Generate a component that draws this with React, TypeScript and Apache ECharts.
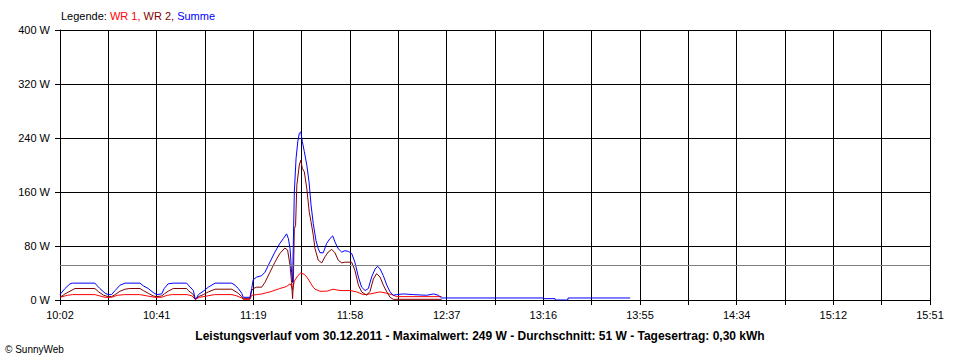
import React, { useEffect, useRef } from "react";
import * as echarts from "echarts";

// minutes after 10:02, watts
const xTickLabels = ["10:02", "10:41", "11:19", "11:58", "12:37", "13:16", "13:55", "14:34", "15:12", "15:51"];
const spanMinutes = 349;
const gridSteps = 18;
const averageWatt = 51;

const wr1: [number, number][] = [
  [0, 4], [3, 7], [5, 8], [14, 8], [16, 6], [18.1, 4], [20.7, 4], [23, 7], [26, 8], [32, 8], [35, 6], [38, 4],
  [40.8, 4], [43, 7], [45, 8], [51, 8], [53, 6], [54.2, 1], [54.8, 2], [56, 4], [59, 6], [62, 8], [69, 8], [71, 6],
  [72.9, 3], [73.5, 1], [76.2, 1], [76.9, 7], [78.9, 8], [80.9, 9], [84.2, 12], [88.2, 17], [90.9, 20], [92.3, 24],
  [92.9, 20], [93.3, 15], [94.0, 28], [95.4, 36], [96.6, 40], [98.0, 38], [99.0, 34], [99.9, 29], [100.7, 24],
  [101.6, 19], [102.3, 16], [104.3, 13], [107.0, 13], [109.6, 16], [112.3, 14], [116.3, 14], [119.0, 12],
  [121.7, 8], [124.4, 9], [128.4, 12], [131.1, 10], [133.1, 8], [135.1, 5], [153.1, 5],
];

const wr2: [number, number][] = [
  [0, 4], [2, 9], [4, 13], [6, 17], [14, 17], [15.5, 12], [17.5, 7], [19.4, 5], [20.7, 5], [22.1, 8], [24.1, 13],
  [26.1, 16], [28, 17], [32.1, 17], [33.4, 14], [35.4, 10], [37.4, 6], [38.8, 5], [40.8, 6], [41.8, 9], [43.4, 13],
  [45.4, 17], [50.8, 17], [51.5, 14], [53.5, 8], [54.2, 1], [54.8, 2], [55.5, 5], [57.5, 8], [59.5, 12], [62.2, 16],
  [68.9, 16], [70.2, 13], [71.5, 10], [72.9, 5], [73.5, 2], [76.2, 2], [76.9, 14], [77.5, 17], [78.9, 19],
  [80.9, 19], [82.2, 26], [84.2, 41], [86.2, 56], [88.2, 69], [90.2, 77], [91.3, 74], [92.3, 51], [92.9, 26],
  [93.3, 2], [93.6, 26], [94.0, 106], [94.5, 110], [95.0, 170], [96.0, 200], [96.6, 207], [97.2, 195], [98.0, 190],
  [99.0, 165], [100.0, 130], [100.7, 116], [101.6, 96], [102.3, 76], [103.6, 59], [105.0, 55], [106.3, 64],
  [107.6, 71], [109.0, 75], [110.3, 70], [111.6, 59], [113.0, 55], [114.3, 56], [117.0, 56], [118.3, 44],
  [119.7, 22], [121.0, 12], [123.0, 7], [124.4, 13], [125.7, 31], [127.0, 39], [128.4, 34], [129.7, 22],
  [131.1, 12], [132.4, 4], [133.7, 1], [153.1, 1],
];

const summe: [number, number][] = [
  [0, 8], [2, 17], [4, 24], [5, 25], [14, 25], [14.7, 22], [16, 17], [18.1, 10], [19.4, 8], [20.7, 8], [22.1, 14],
  [24.1, 22], [26.1, 25], [32.1, 25], [33.4, 21], [35.4, 17], [37.4, 11], [38.8, 8], [40.8, 9], [41.8, 17],
  [43.4, 24], [45.4, 25], [50.8, 25], [51.5, 22], [53.5, 14], [54.2, 2], [54.8, 3], [55.5, 8], [57.5, 13],
  [59.5, 19], [62.2, 25], [68.9, 25], [70.2, 22], [71.5, 17], [72.9, 10], [73.5, 4], [76.2, 4], [76.9, 17],
  [77.5, 30], [78.9, 34], [80.9, 36], [82.2, 41], [84.2, 56], [86.2, 71], [88.2, 84], [89.6, 91], [90.9, 98],
  [91.6, 91], [92.3, 76], [92.9, 41], [93.3, 26], [94.0, 160], [94.7, 210], [95.4, 235], [96.0, 247], [96.6, 249],
  [97.2, 235], [98.0, 220], [99.0, 200], [99.9, 175], [100.7, 141], [101.6, 113], [102.7, 88], [103.6, 76],
  [104.3, 70], [105.6, 70], [107.0, 84], [108.3, 91], [109.4, 95], [110.3, 86], [111.6, 76], [113.0, 71],
  [114.3, 73], [115.7, 72], [117.0, 69], [118.3, 56], [119.7, 34], [121.0, 19], [122.4, 14], [123.7, 17],
  [125.0, 34], [126.4, 46], [127.4, 50], [128.4, 46], [129.7, 36], [131.1, 22], [132.4, 12], [133.7, 7],
  [135.1, 8], [137.7, 9], [141.7, 8], [147.1, 7], [149.8, 9], [151.8, 7], [153.1, 3], [193.9, 3], [194.2, 2],
  [198.6, 2], [198.7, 0], [203.7, 0], [203.8, 3], [228.7, 3],
];

const FONT = "'Liberation Sans', Arial, sans-serif";

export default function App() {
  const ref = useRef<HTMLDivElement>(null);
  useEffect(() => {
    if (!ref.current) return;
    const chart = echarts.init(ref.current, undefined, { renderer: "svg" });
    const step = spanMinutes / gridSteps;
    chart.setOption({
      animation: false,
      backgroundColor: "#ffffff",
      textStyle: { fontFamily: FONT },
      grid: { left: 60, right: 30, top: 30, bottom: 60 },
      xAxis: {
        type: "value",
        min: 0,
        max: spanMinutes,
        interval: step,
        axisLine: { show: true, lineStyle: { color: "#000", width: 1 } },
        axisTick: { show: true, length: 5, lineStyle: { color: "#000" } },
        splitLine: { show: true, lineStyle: { color: "#000", width: 1 } },
        axisLabel: {
          color: "#000",
          fontSize: 11,
          fontFamily: FONT,
          margin: 9,
          showMinLabel: true,
          showMaxLabel: true,
          formatter: (v: number) => {
            const i = Math.round(v / step);
            return i % 2 === 0 ? xTickLabels[i / 2] ?? "" : "";
          },
        },
      },
      yAxis: {
        type: "value",
        min: 0,
        max: 400,
        interval: 80,
        axisLine: { show: true, lineStyle: { color: "#000", width: 1 } },
        axisTick: { show: true, length: 5, lineStyle: { color: "#000" } },
        splitLine: { show: true, lineStyle: { color: "#000", width: 1 } },
        axisLabel: { color: "#000", fontSize: 11, fontFamily: FONT, margin: 10, formatter: "{value} W" },
      },
      series: [
        {
          type: "line",
          data: [],
          markLine: {
            silent: true,
            symbol: "none",
            label: { show: false },
            lineStyle: { color: "#808080", type: "solid", width: 1 },
            data: [{ yAxis: averageWatt }],
          },
        },
        {
          name: "WR 1",
          type: "line",
          data: wr1,
          showSymbol: false,
          lineStyle: { color: "#ff0000", width: 1 },
          itemStyle: { color: "#ff0000" },
        },
        {
          name: "WR 2",
          type: "line",
          data: wr2,
          showSymbol: false,
          lineStyle: { color: "#800000", width: 1 },
          itemStyle: { color: "#800000" },
        },
        {
          name: "Summe",
          type: "line",
          data: summe,
          showSymbol: false,
          lineStyle: { color: "#0000ff", width: 1 },
          itemStyle: { color: "#0000ff" },
        },
      ],
      graphic: [
        {
          type: "text",
          left: 61,
          top: 10,
          style: {
            text: "{k|Legende: }{a|WR 1, }{b|WR 2, }{c|Summe}",
            font: `11px ${FONT}`,
            rich: {
              k: { fill: "#000", fontSize: 11, fontFamily: FONT },
              a: { fill: "#ff0000", fontSize: 11, fontFamily: FONT },
              b: { fill: "#800000", fontSize: 11, fontFamily: FONT },
              c: { fill: "#0000ff", fontSize: 11, fontFamily: FONT },
            },
          },
        },
        {
          type: "text",
          left: "center",
          top: 330,
          style: {
            text: "Leistungsverlauf vom 30.12.2011 - Maximalwert: 249 W - Durchschnitt: 51 W - Tagesertrag: 0,30 kWh",
            fill: "#000",
            font: `bold 12px ${FONT}`,
          },
        },
        {
          type: "text",
          left: 5,
          top: 344,
          style: { text: "© SunnyWeb", fill: "#000", font: `10px ${FONT}` },
        },
      ],
    });
    return () => chart.dispose();
  }, []);
  return (
    <div
      ref={ref}
      style={{ position: "fixed", left: 0, top: 0, width: 960, height: 360, background: "#fff" }}
    />
  );
}
